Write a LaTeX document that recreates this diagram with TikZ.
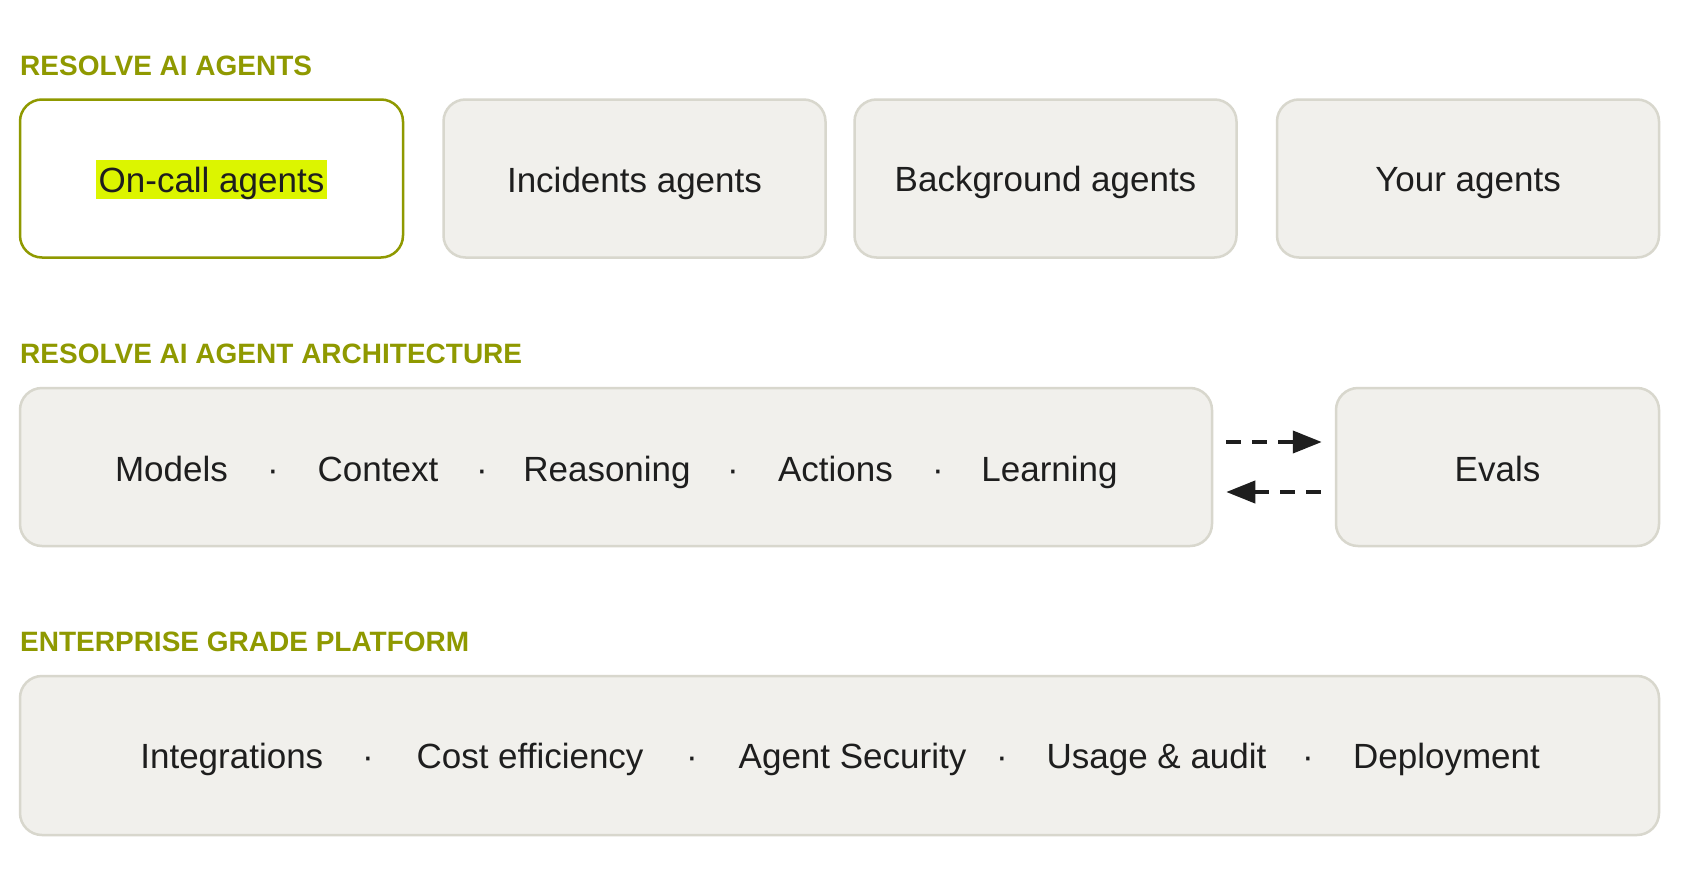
\documentclass[tikz,border=0pt]{standalone}
\usepackage{fontspec}
\setmainfont{Liberation Sans}
\usetikzlibrary{arrows.meta,calc}
\definecolor{hdc}{RGB}{143,153,0}
\definecolor{boxc}{RGB}{241,240,236}
\definecolor{bordc}{RGB}{216,215,205}
\definecolor{txc}{RGB}{30,30,30}
\definecolor{hlc}{RGB}{220,245,0}
\begin{document}
\begin{tikzpicture}[x=1pt,y=-1pt,
  box/.style={draw=bordc, fill=boxc, line width=2.5pt, rounded corners=22pt, inner sep=0pt},
  selbox/.style={draw=hdc, fill=white, line width=2.5pt, rounded corners=22pt, inner sep=0pt},
  head/.style={anchor=base west, inner sep=0pt, text=hdc, font=\fontsize{28}{34}\selectfont\bfseries},
  lbl/.style={anchor=base, inner sep=0pt, text=txc, font=\fontsize{35}{42}\selectfont},
  flow/.style={line width=4pt, draw=txc, dash pattern=on 15pt off 11pt, -{Triangle[length=29pt,width=22pt]}}]
\useasboundingbox (0,0) rectangle (1684,878);
\fill[white] (0,0) rectangle (1684,878);

% headings
\node[head] (h1) at (20,75) {RESOLVE AI AGENTS};
\node[head] (h2) at (20,363) {RESOLVE AI AGENT ARCHITECTURE};
\node[head] (h3) at (20,651) {ENTERPRISE GRADE PLATFORM};

% row 1
\node[selbox, minimum width=383pt, minimum height=158pt] (oncall) at (211.5,178.5) {};
\node[box, minimum width=382pt, minimum height=158pt] (incid) at (634.5,178.5) {};
\node[box, minimum width=382pt, minimum height=158pt] (backg) at (1045.5,178.5) {};
\node[box, minimum width=382pt, minimum height=158pt] (yours) at (1468,178.5) {};
\node[lbl, fill=hlc, inner xsep=3pt, inner ysep=0pt, text height=32pt, text depth=7pt] (toncall) at (211.5,192) {On-call agents};
\node[lbl] (tincid) at (634.5,192) {Incidents agents};
\node[lbl] (tbackg) at (1045.5,191) {Background agents};
\node[lbl] (tyours) at (1468,191) {Your agents};

% row 2
\node[box, minimum width=1192pt, minimum height=158pt] (arch) at (616,467) {};
\node[box, minimum width=323pt, minimum height=158pt] (evals) at (1497.5,467) {};
\node[lbl] (m1) at (171.5,481) {Models};
\node[lbl] (d1) at (273,481) {·};
\node[lbl] (m2) at (378,481) {Context};
\node[lbl] (d2) at (482,481) {·};
\node[lbl] (m3) at (607,481) {Reasoning};
\node[lbl] (d3) at (733,481) {·};
\node[lbl] (m4) at (835.5,481) {Actions};
\node[lbl] (d4) at (938,481) {·};
\node[lbl] (m5) at (1049.5,481) {Learning};
\node[lbl] (tevals) at (1497.5,481) {Evals};

\draw[flow] ($(arch.east)+(13,-25)$) -- ($(evals.west)+(-13,-25)$);
\draw[flow] ($(evals.west)+(-14,25)$) -- ($(arch.east)+(13,25)$);

% row 3
\node[box, minimum width=1639pt, minimum height=159pt] (plat) at (839.5,755.5) {};
\node[lbl] (p1) at (231.8,768) {Integrations};
\node[lbl] (e1) at (368,768) {·};
\node[lbl] (p2) at (530,768) {Cost efficiency};
\node[lbl] (e2) at (692,768) {·};
\node[lbl] (p3) at (852.5,768) {Agent Security};
\node[lbl] (e3) at (1002,768) {·};
\node[lbl] (p4) at (1156.5,768) {Usage \& audit};
\node[lbl] (e4) at (1308,768) {·};
\node[lbl] (p5) at (1446.5,768) {Deployment};
\end{tikzpicture}
\end{document}
